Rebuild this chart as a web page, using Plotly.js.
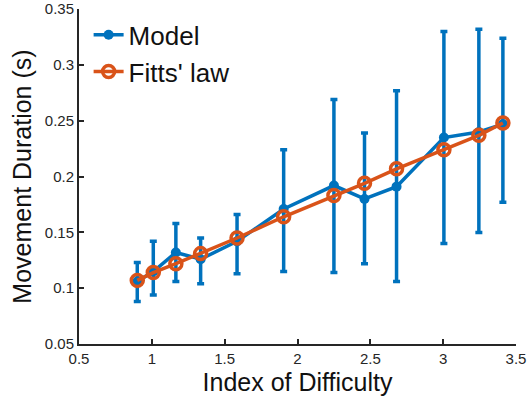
<!DOCTYPE html>
<html>
<head>
<meta charset="utf-8">
<script src="https://cdn.plot.ly/plotly-3.0.1.min.js"></script>
<style>html,body{margin:0;padding:0;background:#fff;}#chart{width:527px;height:404px;}</style>
</head>
<body>
<div id="chart"></div>
<script>
const indexOfDifficulty = [0.9, 1.01, 1.165, 1.335, 1.585, 1.905, 2.25, 2.46, 2.68, 3.005, 3.245, 3.41];
const modelDuration = [0.106, 0.115, 0.132, 0.126, 0.142, 0.171, 0.192, 0.180, 0.191, 0.235, 0.240, 0.247];
const modelUpper = [0.123, 0.142, 0.158, 0.145, 0.166, 0.224, 0.269, 0.239, 0.277, 0.330, 0.332, 0.324];
const modelLower = [0.088, 0.094, 0.106, 0.104, 0.113, 0.115, 0.114, 0.122, 0.106, 0.140, 0.150, 0.177];
const fittsDuration = [0.107, 0.114, 0.122, 0.131, 0.145, 0.164, 0.183, 0.194, 0.207, 0.224, 0.237, 0.248];
const xTicks = [0.5, 1, 1.5, 2, 2.5, 3, 3.5];
const yTicks = [0.05, 0.1, 0.15, 0.2, 0.25, 0.3, 0.35];

const blue = '#0072BD';
const orange = '#D95319';
const axisColor = '#262626';

const plus = modelUpper.map((u, i) => u - modelDuration[i]);
const minus = modelLower.map((l, i) => modelDuration[i] - l);

const traces = [
  {
    x: indexOfDifficulty, y: modelDuration, name: 'Model',
    type: 'scatter', mode: 'lines+markers',
    line: {color: blue, width: 3.5},
    marker: {color: blue, size: 10, symbol: 'circle'},
    error_y: {type: 'data', symmetric: false, array: plus, arrayminus: minus,
              color: blue, thickness: 3.5, width: 3.5}
  },
  {
    x: indexOfDifficulty, y: fittsDuration, name: "Fitts' law",
    type: 'scatter', mode: 'lines+markers',
    line: {color: orange, width: 3.5},
    marker: {color: orange, size: 12, symbol: 'circle-open', line: {width: 3.5}}
  }
];

const layout = {
  width: 527, height: 404,
  margin: {l: 79, r: 11, t: 9, b: 60},
  paper_bgcolor: '#fff', plot_bgcolor: '#fff',
  font: {family: 'Liberation Sans, Arial, sans-serif', color: axisColor},
  showlegend: true,
  legend: {x: 0.022, y: 0.993, xanchor: 'left', yanchor: 'top', bgcolor: 'rgba(255,255,255,0)',
           font: {size: 26, color: '#111'}, tracegroupgap: 0, itemwidth: 30},
  xaxis: {
    range: [0.5, 3.5], tickvals: xTicks, ticktext: xTicks.map(String),
    ticks: 'inside', ticklen: 5, tickwidth: 2, tickcolor: axisColor,
    showline: true, linecolor: axisColor, linewidth: 2, showgrid: false, zeroline: false,
    tickfont: {size: 15, color: axisColor}, ticklabeloverflow: 'allow',
    title: {text: 'Index of Difficulty', font: {size: 25, color: '#111'}, standoff: 7}
  },
  yaxis: {
    range: [0.05, 0.3502], tickvals: yTicks, ticktext: yTicks.map(String),
    ticks: 'inside', ticklen: 5, tickwidth: 2, tickcolor: axisColor,
    showline: true, linecolor: axisColor, linewidth: 2, showgrid: false, zeroline: false,
    tickfont: {size: 15, color: axisColor}, ticklabeloverflow: 'allow',
    title: {text: 'Movement Duration (s)', font: {size: 25, color: '#111'}, standoff: 6}
  }
};

Plotly.newPlot('chart', traces, layout, {displayModeBar: false, staticPlot: true});
</script>
</body>
</html>
